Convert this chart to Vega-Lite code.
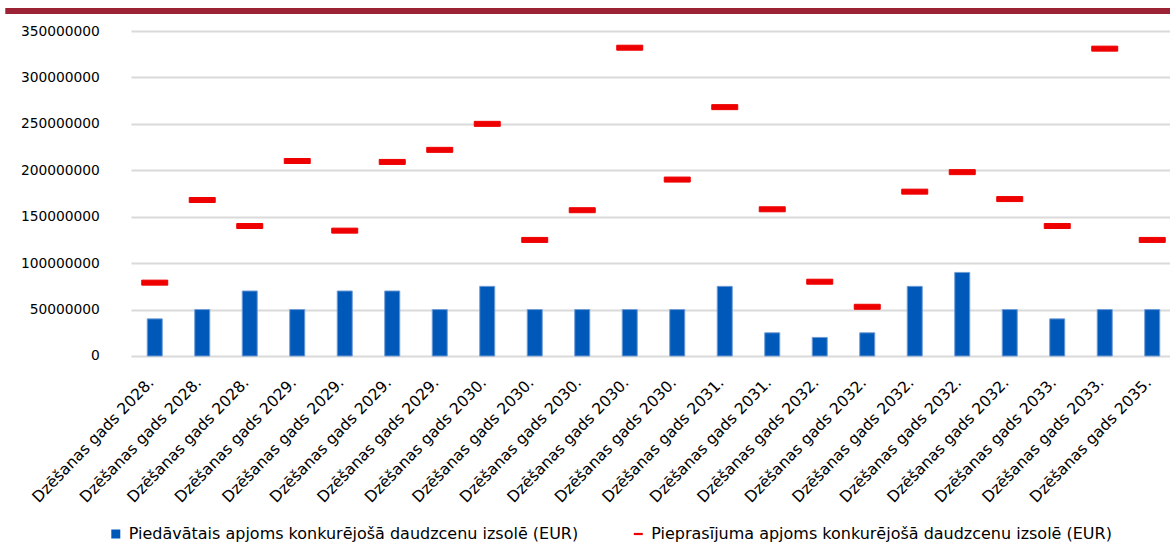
{
  "$schema": "https://vega.github.io/schema/vega-lite/v6.json",
  "background": "white",
  "padding": {"left": 5, "top": 8, "right": 0, "bottom": 0},
  "config": {"font": "DejaVu Sans", "view": {"stroke": null}},
  "spacing": 10,
  "vconcat": [
    {
      "width": 1039.3,
      "height": 6,
      "data": {"values": [{"start": -0.12095, "end": 1}]},
      "mark": {"type": "rect", "color": "#9B2335"},
      "encoding": {
        "x": {"field": "start", "type": "quantitative", "scale": {"domain": [0, 1], "nice": false, "zero": false}, "axis": null},
        "x2": {"field": "end"}
      }
    },
    {
      "width": 1039.3,
      "height": 325,
      "data": {
        "values": [
          {"key": "2028. #01", "offered": 40000000, "demanded": 79000000},
          {"key": "2028. #02", "offered": 50000000, "demanded": 168000000},
          {"key": "2028. #03", "offered": 70000000, "demanded": 140000000},
          {"key": "2029. #04", "offered": 50000000, "demanded": 210000000},
          {"key": "2029. #05", "offered": 70000000, "demanded": 135000000},
          {"key": "2029. #06", "offered": 70000000, "demanded": 209000000},
          {"key": "2029. #07", "offered": 50000000, "demanded": 222000000},
          {"key": "2030. #08", "offered": 75000000, "demanded": 250000000},
          {"key": "2030. #09", "offered": 50000000, "demanded": 125000000},
          {"key": "2030. #10", "offered": 50000000, "demanded": 157000000},
          {"key": "2030. #11", "offered": 50000000, "demanded": 332000000},
          {"key": "2030. #12", "offered": 50000000, "demanded": 190000000},
          {"key": "2031. #13", "offered": 75000000, "demanded": 268000000},
          {"key": "2031. #14", "offered": 25000000, "demanded": 158000000},
          {"key": "2032. #15", "offered": 20000000, "demanded": 80000000},
          {"key": "2032. #16", "offered": 25000000, "demanded": 53000000},
          {"key": "2032. #17", "offered": 75000000, "demanded": 177000000},
          {"key": "2032. #18", "offered": 90000000, "demanded": 198000000},
          {"key": "2032. #19", "offered": 50000000, "demanded": 169000000},
          {"key": "2033. #20", "offered": 40000000, "demanded": 140000000},
          {"key": "2033. #21", "offered": 50000000, "demanded": 331000000},
          {"key": "2035. #22", "offered": 50000000, "demanded": 125000000}
        ]
      },
      "encoding": {
        "x": {
          "field": "key",
          "type": "ordinal",
          "sort": null,
          "scale": {"type": "band", "paddingInner": 0, "paddingOuter": 0, "range": [0, 1045]},
          "axis": {
            "title": null,
            "labelExpr": "'Dzēšanas gads ' + slice(datum.value, 0, 5)",
            "labelAngle": -46,
            "labelAlign": "right",
            "labelBaseline": "alphabetic",
            "labelPadding": 27,
            "labelFontSize": 15.6,
            "labelColor": "#000000",
            "labelFont": "DejaVu Sans",
            "labelOverlap": false,
            "labelLimit": 0,
            "ticks": false,
            "domain": false,
            "grid": false
          }
        }
      },
      "layer": [
        {
          "mark": {"type": "bar", "width": 15, "stroke": "#6E9CD6", "strokeWidth": 1},
          "encoding": {
            "y": {
              "field": "offered",
              "type": "quantitative",
              "scale": {"domain": [0, 350000000], "nice": false},
              "axis": {
                "title": null,
                "values": [0, 50000000, 100000000, 150000000, 200000000, 250000000, 300000000, 350000000],
                "format": "d",
                "labelFontSize": 13.8,
                "labelColor": "#000000",
                "labelFont": "DejaVu Sans",
                "labelPadding": 31.7,
                "ticks": false,
                "domain": false,
                "grid": true,
                "gridColor": "#DADADA",
                "gridWidth": 2
              }
            },
            "fill": {
              "datum": "Piedāvātais apjoms konkurējošā daudzcenu izsolē (EUR)",
              "type": "nominal",
              "scale": {"range": ["#0059B8"]},
              "legend": {
                "title": null,
                "orient": "none",
                "legendX": -23.2,
                "legendY": 518,
                "padding": 0,
                "labelFontSize": 16,
                "labelFont": "DejaVu Sans",
                "labelColor": "#000000",
                "labelOffset": 5,
                "labelLimit": 0,
                "symbolType": "square",
                "symbolSize": 81,
                "symbolStrokeWidth": 0,
                "symbolOpacity": 1
              }
            }
          }
        },
        {
          "mark": {"type": "tick", "size": 26, "thickness": 5, "color": "#EE0000", "strokeWidth": 1, "opacity": 1},
          "encoding": {
            "y": {"field": "demanded", "type": "quantitative"},
            "stroke": {
              "datum": "Pieprasījuma apjoms konkurējošā daudzcenu izsolē (EUR)",
              "type": "nominal",
              "scale": {"range": ["#EE0000"]},
              "legend": {
                "title": null,
                "orient": "none",
                "legendX": 499.3,
                "legendY": 518,
                "padding": 0,
                "labelFontSize": 16,
                "labelFont": "DejaVu Sans",
                "labelColor": "#000000",
                "labelOffset": 5,
                "labelLimit": 0,
                "symbolType": "stroke",
                "symbolSize": 81,
                "symbolStrokeWidth": 2.2,
                "symbolOpacity": 1
              }
            }
          }
        }
      ]
    }
  ]
}
